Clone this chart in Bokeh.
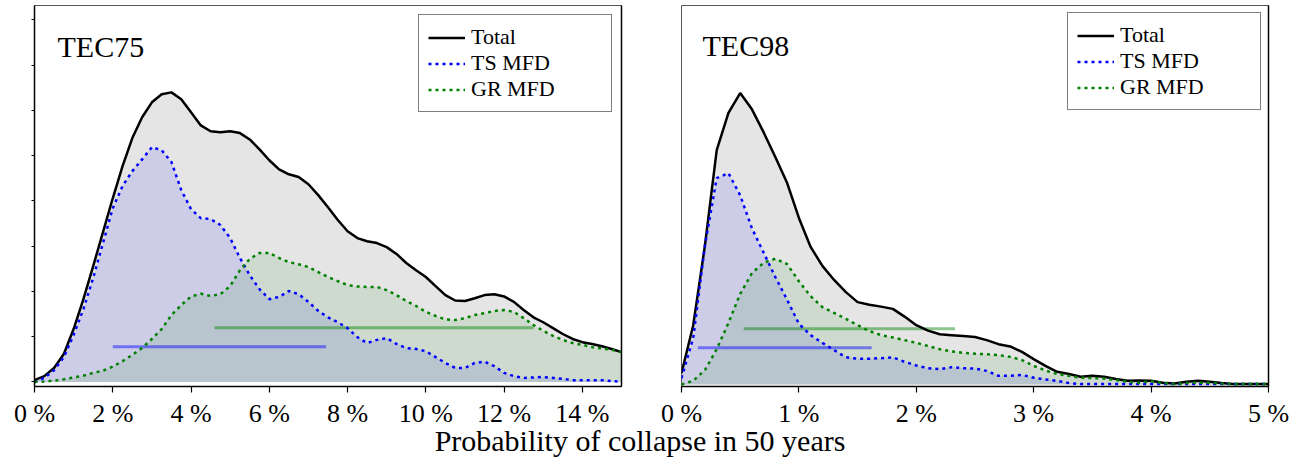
from bokeh.plotting import figure
from bokeh.models import Range1d, FixedTicker, LinearAxis, Legend, LegendItem, Label, Div
from bokeh.layouts import row, column
from bokeh.embed import file_html
from bokeh.resources import INLINE

FONT = "Liberation Serif"

# ---------------- TEC75 (left panel) ----------------
x75 = [0.0, 0.25, 0.5, 0.75, 1.0, 1.25, 1.5, 1.75, 2.0, 2.25, 2.5, 2.75, 3.0, 3.25, 3.5, 3.75,
       4.0, 4.25, 4.5, 4.75, 5.0, 5.25, 5.5, 5.75, 6.0, 6.25, 6.5, 6.75, 7.0, 7.25, 7.5, 7.75,
       8.0, 8.25, 8.5, 8.75, 9.0, 9.25, 9.5, 9.75, 10.0, 10.25, 10.5, 10.75, 11.0, 11.25, 11.5,
       11.75, 12.0, 12.25, 12.5, 12.75, 13.0, 13.25, 13.5, 13.75, 14.0, 14.25, 14.5, 14.75, 15.0]
total75 = [0.04, 0.13, 0.31, 0.62, 1.17, 1.83, 2.56, 3.31, 4.06, 4.77, 5.39, 5.85, 6.18, 6.36, 6.40, 6.25,
           5.96, 5.67, 5.54, 5.52, 5.54, 5.50, 5.36, 5.14, 4.90, 4.70, 4.59, 4.53, 4.37, 4.13, 3.86, 3.58,
           3.33, 3.18, 3.11, 3.07, 2.98, 2.83, 2.63, 2.47, 2.32, 2.12, 1.92, 1.80, 1.79, 1.85, 1.92,
           1.94, 1.89, 1.77, 1.59, 1.43, 1.32, 1.19, 1.06, 0.95, 0.88, 0.84, 0.79, 0.73, 0.66]
ts75 = [0.0, 0.09, 0.26, 0.55, 1.04, 1.61, 2.30, 3.07, 3.84, 4.33, 4.66, 4.92, 5.19, 5.12, 4.86, 4.24,
        3.82, 3.62, 3.60, 3.47, 3.18, 2.74, 2.36, 2.05, 1.83, 1.88, 2.01, 1.94, 1.77, 1.57, 1.43, 1.32,
        1.19, 0.99, 0.86, 0.93, 0.97, 0.84, 0.75, 0.73, 0.68, 0.55, 0.42, 0.31, 0.31, 0.42, 0.45,
        0.35, 0.20, 0.13, 0.09, 0.10, 0.11, 0.09, 0.07, 0.04, 0.04, 0.04, 0.04, 0.02, 0.0]
gr75 = [0.0, 0.01, 0.03, 0.06, 0.10, 0.14, 0.20, 0.25, 0.34, 0.46, 0.60, 0.75, 0.95, 1.17, 1.48, 1.70,
        1.89, 1.95, 1.90, 1.94, 2.12, 2.47, 2.72, 2.85, 2.85, 2.74, 2.65, 2.60, 2.54, 2.43, 2.32, 2.23,
        2.14, 2.11, 2.10, 2.10, 2.03, 1.92, 1.79, 1.68, 1.55, 1.46, 1.38, 1.37, 1.41, 1.48, 1.52,
        1.57, 1.59, 1.55, 1.41, 1.26, 1.13, 1.02, 0.93, 0.86, 0.82, 0.77, 0.74, 0.71, 0.66]
ts75_range = [2.0, 7.45]
ts75_level = 0.78
gr75_range = [4.6, 12.75]
gr75_level = 1.20
ticks75 = [0, 2, 4, 6, 8, 10, 12, 14]
tick_labels75 = ["0 %", "2 %", "4 %", "6 %", "8 %", "10 %", "12 %", "14 %"]

# ---------------- TEC98 (right panel) ----------------
x98 = [0.0, 0.1, 0.2, 0.3, 0.4, 0.5, 0.6, 0.7, 0.8, 0.9, 1.0, 1.1, 1.2, 1.3, 1.4, 1.5, 1.6,
       1.7, 1.8, 1.9, 2.0, 2.1, 2.2, 2.3, 2.4, 2.5, 2.6, 2.7, 2.8, 2.9, 3.0, 3.1, 3.2, 3.3,
       3.4, 3.5, 3.6, 3.7, 3.8, 3.9, 4.0, 4.1, 4.2, 4.3, 4.4, 4.5, 4.6, 4.7, 4.8, 4.9, 5.0]
total98 = [0.25, 1.31, 3.08, 5.18, 6.00, 6.44, 6.08, 5.57, 5.02, 4.45, 3.68, 3.04, 2.62, 2.31, 2.04,
           1.82, 1.76, 1.72, 1.67, 1.50, 1.31, 1.19, 1.11, 1.09, 1.07, 1.05, 0.98, 0.89, 0.84, 0.72,
           0.56, 0.41, 0.28, 0.23, 0.17, 0.19, 0.17, 0.12, 0.08, 0.09, 0.08, 0.04, 0.02, 0.06, 0.08,
           0.06, 0.03, 0.01, 0.01, 0.01, 0.01]
ts98 = [0.14, 1.03, 3.08, 4.56, 4.67, 4.18, 3.45, 2.91, 2.37, 1.87, 1.34, 1.09, 0.92, 0.76, 0.60,
        0.57, 0.57, 0.58, 0.60, 0.50, 0.42, 0.36, 0.34, 0.38, 0.36, 0.35, 0.30, 0.19, 0.19, 0.21,
        0.15, 0.11, 0.08, 0.03, 0.01, 0.01, 0.01, 0.01, 0.01, 0.01, 0.01, 0.01, 0.01, 0.01, 0.01,
        0.01, 0.01, 0.01, 0.01, 0.01, 0.01]
gr98 = [0.0, 0.08, 0.32, 0.78, 1.36, 2.00, 2.46, 2.69, 2.78, 2.66, 2.28, 1.95, 1.71, 1.58, 1.45,
        1.31, 1.18, 1.09, 1.04, 0.98, 0.92, 0.85, 0.78, 0.73, 0.70, 0.68, 0.67, 0.65, 0.61, 0.54,
        0.41, 0.31, 0.23, 0.19, 0.15, 0.14, 0.13, 0.10, 0.06, 0.04, 0.07, 0.03, 0.01, 0.03, 0.04,
        0.04, 0.02, 0.01, 0.01, 0.01, 0.01]
ts98_range = [0.14, 1.62]
ts98_level = 0.81
gr98_range = [0.53, 2.33]
gr98_level = 1.23
ticks98 = [0, 1, 2, 3, 4, 5]
tick_labels98 = ["0 %", "1 %", "2 %", "3 %", "4 %", "5 %"]

series_names = ["Total", "TS MFD", "GR MFD"]
yticks = [0, 1, 2, 3, 4, 5, 6, 7, 8]


def make_panel(x, total, ts, gr, ts_rng, ts_lvl, gr_rng, gr_lvl, ticks, tick_labels,
               x_end, y_start, y_end, name, name_dx, name_dy, left_axis,
               b_left, b_right, leg_margin):
    p = figure(frame_width=587, frame_height=381,
               x_range=Range1d(0, x_end), y_range=Range1d(y_start, y_end),
               output_backend="svg", toolbar_location=None,
               min_border_left=b_left, min_border_right=b_right,
               min_border_top=5, min_border_bottom=44,
               outline_line_color="#555555", outline_line_width=1,
               background_fill_color="white", border_fill_color="white")
    p.grid.visible = False

    # fills
    p.varea(x=x, y1=0, y2=total, fill_color="black", fill_alpha=0.1)
    p.varea(x=x, y1=0, y2=ts, fill_color="blue", fill_alpha=0.1)
    p.varea(x=x, y1=0, y2=gr, fill_color="green", fill_alpha=0.1)

    # interval bars
    p.segment(x0=[ts_rng[0]], y0=[ts_lvl], x1=[ts_rng[1]], y1=[ts_lvl],
              line_color="blue", line_width=3, line_alpha=0.45)
    p.segment(x0=[gr_rng[0]], y0=[gr_lvl], x1=[gr_rng[1]], y1=[gr_lvl],
              line_color="green", line_width=3, line_alpha=0.45)

    # curves
    r_tot = p.line(x, total, line_color="black", line_width=2.5)
    r_ts = p.line(x, ts, line_color="blue", line_width=2.5, line_dash="3 4")
    r_gr = p.line(x, gr, line_color="green", line_width=2.5, line_dash="3 4")

    # x axis
    xa = p.xaxis[0]
    xa.ticker = FixedTicker(ticks=ticks)
    xa.major_label_overrides = {t: lab for t, lab in zip(ticks, tick_labels)}
    xa.major_label_text_font = FONT
    xa.major_label_text_font_size = "26px"
    xa.major_label_text_color = "black"
    xa.major_tick_out = 6
    xa.major_tick_in = 0
    xa.minor_tick_out = 0
    xa.minor_tick_in = 0
    xa.axis_line_width = 1.5
    xa.axis_line_color = "black"
    xa.major_tick_line_width = 1.2
    xa.major_label_standoff = 6

    ya = p.yaxis[0]
    if left_axis:
        ya.ticker = FixedTicker(ticks=yticks)
        ya.major_label_overrides = {t: "" for t in yticks}
        ya.major_tick_out = 3
        ya.major_tick_in = 0
        ya.minor_tick_out = 0
        ya.minor_tick_in = 0
        ya.axis_line_width = 1.5
        ya.axis_line_color = "black"
        ya.major_label_standoff = 0
    else:
        ya.visible = False

    ra = LinearAxis(ticker=FixedTicker(ticks=[]),
                    major_tick_out=0, minor_tick_out=0, major_label_standoff=0,
                    axis_line_color="black", axis_line_width=1.5)
    p.add_layout(ra, "right")

    legend = Legend(items=[LegendItem(label=series_names[0], renderers=[r_tot]),
                           LegendItem(label=series_names[1], renderers=[r_ts]),
                           LegendItem(label=series_names[2], renderers=[r_gr])],
                    location="top_right", margin=leg_margin, padding=9, spacing=0,
                    glyph_width=37, glyph_height=25, label_height=25, label_width=131,
                    label_standoff=6, label_text_font=FONT, label_text_font_size="22px",
                    label_text_color="black", border_line_color="black", border_line_width=1,
                    background_fill_color="white", background_fill_alpha=1.0)
    p.add_layout(legend)

    p.add_layout(Label(x=0, y=y_end, x_offset=name_dx, y_offset=-name_dy, text=name,
                       text_font=FONT, text_font_size="30px", text_color="black",
                       text_baseline="alphabetic", text_align="left"))
    return p


p1 = make_panel(x75, total75, ts75, gr75, ts75_range, ts75_level, gr75_range, gr75_level,
                ticks75, tick_labels75, 15, -0.10, 8.32, "TEC75", 23, 41, True, 34, 30, 9)
p2 = make_panel(x98, total98, ts98, gr98, ts98_range, ts98_level, gr98_range, gr98_level,
                ticks98, tick_labels98, 5, -0.045, 8.375, "TEC98", 21, 40, False, 30, 24, 7)

xlabel = Div(text="Probability of collapse in 50 years", width=1270, height=36,
             styles={"font-family": FONT, "font-size": "30px", "text-align": "center",
                     "line-height": "1", "color": "black", "margin-top": "-4px"})

layout = column(row(p1, p2), xlabel)

open("out.html", "w").write(file_html(layout, INLINE))
